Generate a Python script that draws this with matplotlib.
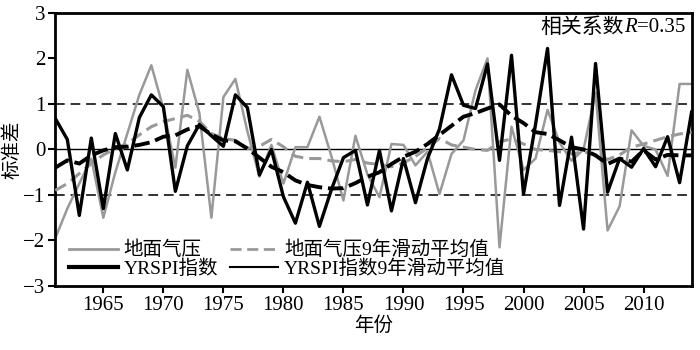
import matplotlib.pyplot as plt
import numpy as np
from matplotlib.lines import Line2D

plt.rcParams['font.family'] = ['Liberation Serif', 'Noto Sans CJK SC']

years = np.arange(1961, 2015)

# 地面气压 (standardized surface pressure)
pressure = [-1.95, -1.3, -0.75, -0.2, -1.5, -0.5, 0.35, 1.2, 1.85, 0.9,
            -0.4, 1.75, 0.8, -1.5, 1.15, 1.55, 0.4, -0.6, 0.1, -0.75,
            0.05, 0.05, 0.72, -0.15, -1.12, 0.3, -0.55, -1.05, 0.12, 0.1,
            -0.35, -0.05, -0.98, -0.1, 0.2, 1.3, 2.0, -2.15, 0.5, -0.45,
            -0.2, 0.87, 0.15, -0.25, 0.0, 1.25, -1.78, -1.25, 0.42, 0.08,
            0.0, -0.58, 1.44, 1.44]

# YRSPI指数
yrspi = [0.68, 0.22, -1.45, 0.25, -1.3, 0.35, -0.45, 0.7, 1.2, 0.94,
         -0.92, 0.08, 0.55, 0.3, 0.07, 1.2, 0.92, -0.56, 0.0, -1.04,
         -1.62, -0.72, -1.69, -0.88, -0.18, -0.02, -1.22, -0.02, -1.35, -0.2,
         -1.17, -0.2, 0.45, 1.64, 0.97, 0.9, 1.88, -0.24, 2.07, -0.98,
         0.55, 2.22, -1.23, 0.27, -1.75, 1.89, -0.94, -0.2, -0.39, 0.02,
         -0.38, 0.28, -0.73, 0.82]

# 地面气压9年滑动平均值
pressure_ma = [-0.9, -0.75, -0.53, -0.31, -0.12, 0.02, 0.13, 0.32, 0.5, 0.61,
               0.68, 0.75, 0.62, 0.35, 0.24, 0.2, 0.02, 0.07, 0.22, 0.06,
               -0.15, -0.2, -0.2, -0.25, -0.27, -0.22, -0.3, -0.33, -0.38, -0.3,
               -0.15, 0.03, 0.24, 0.1, 0.05, 0.0, -0.02, 0.17, 0.23, 0.12,
               0.0, -0.02, -0.05, -0.1, -0.05, -0.12, -0.22, -0.12, 0.05, 0.12,
               0.2, 0.28, 0.34, 0.38]

# YRSPI指数9年滑动平均值
yrspi_ma = [-0.4, -0.24, -0.31, -0.13, -0.02, 0.05, 0.06, 0.1, 0.16, 0.28,
            0.31, 0.44, 0.51, 0.33, 0.2, 0.18, 0.02, -0.18, -0.38, -0.5,
            -0.68, -0.78, -0.83, -0.86, -0.85, -0.74, -0.6, -0.5, -0.32, -0.16,
            -0.05, 0.12, 0.32, 0.52, 0.72, 0.8, 0.9, 0.99, 0.74, 0.58,
            0.38, 0.34, 0.2, 0.05, 0.0, -0.13, -0.32, -0.2, -0.27, -0.02,
            -0.22, -0.12, -0.13, -0.13]

fig = plt.figure(figsize=(7, 3.5), dpi=100)
ax = fig.add_axes([0.079, 0.183, 0.909, 0.78])

ax.axhline(0, color='black', lw=1.0, zorder=1)
ax.axhline(1, color='#333333', lw=1.4, ls=(0, (5, 3)), zorder=1)
ax.axhline(-1, color='#333333', lw=1.4, ls=(0, (5, 3)), zorder=1)

ax.plot(years, pressure, color='#999999', lw=1.8, zorder=2)
ax.plot(years, pressure_ma, color='#999999', lw=2.2, ls=(0, (4, 2)), zorder=3)
ax.plot(years, yrspi, color='black', lw=2.4, zorder=4)
ax.plot(years, yrspi_ma, color='black', lw=2.8, ls=(0, (4, 1.5)), zorder=5)

ax.set_xlim(1961, 2014)
ax.set_ylim(-3, 3)
ax.set_xticks(np.arange(1965, 2011, 5))
ax.set_yticks(np.arange(-3, 4, 1))
ax.tick_params(direction='out', length=5, width=1.5, labelsize=15, pad=2)
for s in ax.spines.values():
    s.set_linewidth(2)

ax.set_xlabel('年份', fontsize=14, labelpad=1)
ax.set_ylabel('标准差', fontsize=14, labelpad=1)

# 相关系数R=0.35, with italic R
t3 = ax.text(0.99, 0.945, '=0.35', transform=ax.transAxes,
             ha='right', va='center', fontsize=15)
t2 = ax.annotate('R', xy=(0, 0.5), xycoords=t3, ha='right', va='center',
                 fontsize=15, fontstyle='italic')
ax.annotate('相关系数', xy=(0, 0.5), xycoords=t2, ha='right', va='center',
            fontsize=15)

handles = [Line2D([], [], color='#999999', lw=2.0),
           Line2D([], [], color='black', lw=3.0),
           Line2D([], [], color='#999999', lw=2.0, ls=(0, (4, 2))),
           Line2D([], [], color='black', lw=1.5)]
labels = ['地面气压', 'YRSPI指数', '地面气压9年滑动平均值', 'YRSPI指数9年滑动平均值']
ax.legend(handles, labels, ncol=2, loc='lower left', bbox_to_anchor=(0.0, -0.02),
          frameon=False, fontsize=14, handlelength=2.5, handletextpad=0.3,
          columnspacing=0.6, labelspacing=0.0, borderaxespad=0.3)

fig.savefig('out.png', dpi=100)
